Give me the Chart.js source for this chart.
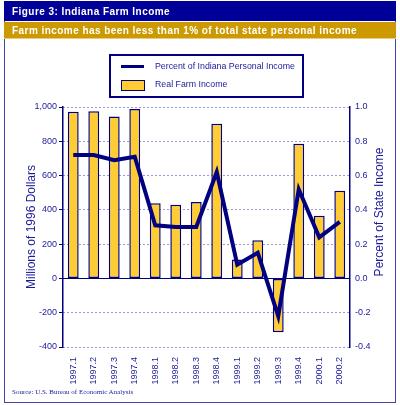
<!DOCTYPE html>
<html>
<head>
<meta charset="utf-8">
<script src="https://cdn.jsdelivr.net/npm/chart.js@4"></script>
<style>
  body { margin: 0; background: #fff; }
  #wrap { position: relative; width: 400px; height: 405px; overflow: hidden; font-family: "Liberation Sans", Arial, sans-serif; }
  #frame { position: absolute; left: 4px; top: 1px; width: 392px; height: 402px; border: 1px solid #4444aa; border-top: none; box-sizing: border-box; }
  #bar1 { position: absolute; left: 4px; top: 1px; width: 392px; height: 20px; background: #000099; color: #fff; font-weight: bold; font-size: 10px; letter-spacing: 0.45px; line-height: 21px; padding-left: 8px; box-sizing: border-box; }
  #bar2 { position: absolute; left: 4px; top: 22px; width: 392px; height: 17px; background: #cc9900; color: #fff; font-weight: bold; font-size: 10px; letter-spacing: 0.45px; line-height: 17px; padding-left: 8px; box-sizing: border-box; border-bottom: 1px solid #e8cc80; }
  #legend { position: absolute; left: 109px; top: 54px; width: 195px; height: 44px; border: 2px solid #000080; box-sizing: border-box; background: #fff; font-size: 8.8px; color: #1a1a99; white-space: nowrap; }
  .sw-line { position: absolute; left: 10px; top: 9px; width: 23px; height: 3px; background: #000080; }
  .sw-bar { position: absolute; left: 10px; top: 24px; width: 22px; height: 9px; background: #ffcc33; border: 1px solid #000080; }
  .lt { position: absolute; left: 44px; }
  #source { position: absolute; left: 12px; top: 388px; font-family: "Liberation Serif", serif; font-size: 7px; color: #1a1a99; }
  #titulo2 { position: absolute; left: 379px; top: 212px; transform: translate(-50%, -50%) rotate(-90deg); white-space: nowrap; font-size: 12px; color: #1a1a99; }
  canvas { position: absolute; left: 0; top: 0; }
</style>
</head>
<body>
<div id="wrap">
  <canvas id="grafico" width="400" height="405"></canvas>
  <div id="frame"></div>
  <div id="bar1">Figure 3: Indiana Farm Income</div>
  <div id="bar2">Farm income has been less than 1% of total state personal income</div>
  <div id="legend">
    <div class="sw-line"></div><div class="lt" style="top:5px">Percent of Indiana Personal Income</div>
    <div class="sw-bar"></div><div class="lt" style="top:23px">Real Farm Income</div>
  </div>
  <div id="titulo2">Percent of State Income</div>
  <div id="source">Source: U.S. Bureau of Economic Analysis</div>
</div>
<script>
const trimestres = ['1997.1', '1997.2', '1997.3', '1997.4', '1998.1', '1998.2', '1998.3', '1998.4',
    '1999.1', '1999.2', '1999.3', '1999.4', '2000.1', '2000.2'];
const rendaAgricola = [972, 975, 945, 988, 438, 430, 446, 902, 111, 222, -314, 786, 365, 512];
const percentualRenda = [0.72, 0.72, 0.69, 0.71, 0.31, 0.30, 0.30, 0.62, 0.08, 0.15, -0.22, 0.52, 0.24, 0.33];

const azul = '#000080';
const textoAzul = '#1a1a99';
const fonteTick = { family: 'Liberation Sans', size: 9 };

// linha do zero, solida, por cima da grade pontilhada
const linhaZero = {
    id: 'linhaZero',
    beforeDatasetsDraw(chart) {
        const y = Math.round(chart.scales.y.getPixelForValue(0)) + 0.5;
        const ctx = chart.ctx;
        ctx.save();
        ctx.strokeStyle = azul;
        ctx.lineWidth = 1.2;
        ctx.beginPath();
        ctx.moveTo(chart.chartArea.left, y);
        ctx.lineTo(chart.chartArea.right, y);
        ctx.stroke();
        ctx.restore();
    }
};

new Chart(document.getElementById('grafico'), {
    type: 'bar',
    data: {
        labels: trimestres,
        datasets: [
            {
                type: 'line',
                label: 'Percent of Indiana Personal Income',
                data: percentualRenda,
                yAxisID: 'y1',
                borderColor: azul,
                borderWidth: 4,
                pointRadius: 0,
                tension: 0,
                fill: false,
                order: 0
            },
            {
                label: 'Real Farm Income',
                data: rendaAgricola,
                yAxisID: 'y',
                backgroundColor: '#ffcc33',
                borderColor: azul,
                borderWidth: 1.5,
                borderSkipped: false,
                barPercentage: 0.53,
                categoryPercentage: 1,
                order: 1
            }
        ]
    },
    options: {
        responsive: false,
        animation: false,
        layout: { padding: { left: 24, right: 4, top: 107, bottom: 0 } },
        plugins: { legend: { display: false }, tooltip: { enabled: false } },
        scales: {
            x: {
                grid: { display: false },
                border: { display: false },
                ticks: { color: textoAzul, font: fonteTick, minRotation: 90, maxRotation: 90, autoSkip: false, padding: 2 },
                afterFit(s) { s.height = 58; }
            },
            y: {
                position: 'left',
                min: -400, max: 1000,
                ticks: {
                    stepSize: 200, color: textoAzul, font: fonteTick, padding: 2,
                    callback: v => v.toLocaleString('en-US')
                },
                grid: { color: '#3333aa', lineWidth: 1, tickLength: 4, tickColor: azul },
                border: { display: true, color: azul, width: 1.5, dash: [1, 3] },
                title: { display: true, text: 'Millions of 1996 Dollars', color: textoAzul, font: { family: 'Liberation Sans', size: 12 }, padding: 0 },
                afterFit(s) { s.width = 39; }
            },
            y1: {
                position: 'right',
                min: -0.4, max: 1.0,
                ticks: {
                    stepSize: 0.2, color: textoAzul, font: fonteTick, padding: 5,
                    callback: v => (Math.abs(v) < 1e-9 ? 0 : v).toFixed(1)
                },
                grid: { drawOnChartArea: false, tickLength: 0 },
                border: { display: true, color: azul, width: 1.5 },
                afterFit(s) { s.width = 46; }
            }
        }
    },
    plugins: [linhaZero]
});
</script>
</body>
</html>
